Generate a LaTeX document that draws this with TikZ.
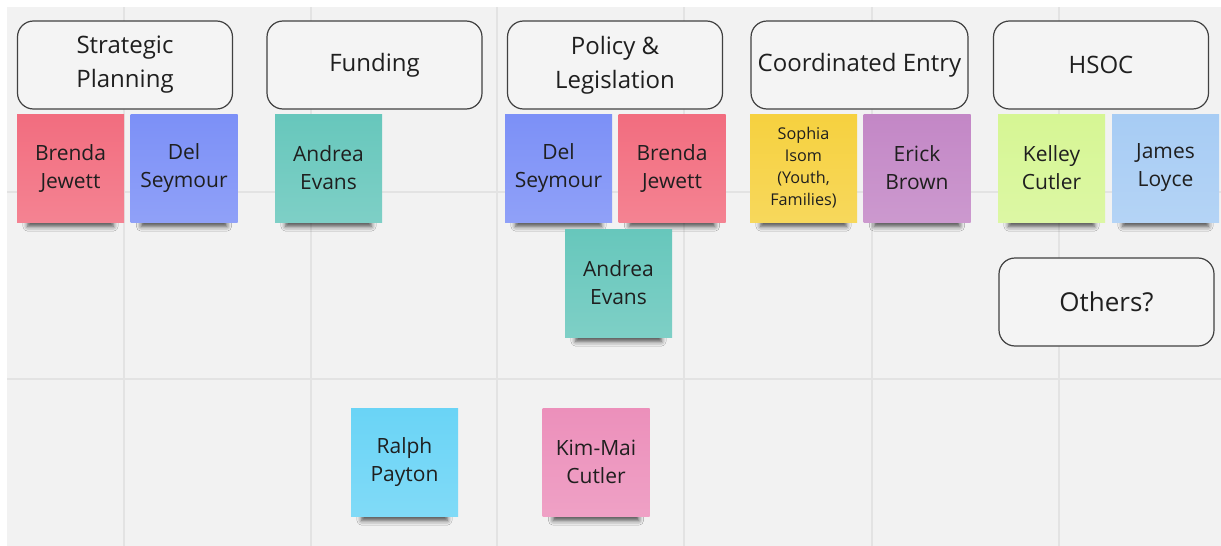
\documentclass[tikz,border=0pt]{standalone}
\usepackage{fontspec}
\setmainfont{Open Sans}
\usetikzlibrary{shadows.blur}

\definecolor{board}{HTML}{F2F2F2}
\definecolor{gridgray}{HTML}{E3E3E3}
\definecolor{boxfill}{HTML}{F4F4F4}
\definecolor{inkgray}{HTML}{1F1F1F}
\definecolor{notered}{HTML}{F26D7F}
\definecolor{noteblue}{HTML}{7C90F7}
\definecolor{noteteal}{HTML}{67C7BC}
\definecolor{noteyellow}{HTML}{F6D13F}
\definecolor{notepurple}{HTML}{C387C6}
\definecolor{notelime}{HTML}{D6F694}
\definecolor{notesky}{HTML}{A7CCF4}
\definecolor{notecyan}{HTML}{6AD4F6}
\definecolor{notepink}{HTML}{EC90BB}

\tikzset{
	header/.style={draw=inkgray!85, line width=0.6pt, rounded corners=8pt, fill=boxfill,
		minimum width=107.5pt, minimum height=44pt, align=center, text=inkgray,
		font=\fontsize{12}{17}\selectfont},
	sticky/.style={minimum width=53.5pt, minimum height=54pt, inner sep=0pt, align=center,
		text=inkgray, font=\fontsize{10.5}{14}\selectfont,
		blur shadow={shadow xshift=0pt, shadow yshift=-9.5pt, shadow scale=0.8,
			shadow opacity=70, shadow blur radius=3pt}},
	gridline/.style={gridgray, line width=1pt}
}

% [extra options], name, x, y, colour, text
\newcommand{\drawstickynote}[6][]{
	\node[sticky, top color=#5, bottom color=#5!85!white, #1] (#2) at (#3, #4) {#6};
}

\begin{document}
\begin{tikzpicture}[x=0.5pt, y=-0.5pt]

\useasboundingbox (0, 0) rectangle (1221, 546);
\fill[white] (0, 0) rectangle (1221, 546);
\fill[board] (7, 7) rectangle (1221, 546);
\foreach \gx in {124, 311, 497, 684, 872, 1059}
	\draw[gridline] (\gx, 7) -- (\gx, 546);
\foreach \gy in {192, 379}
	\draw[gridline] (7, \gy) -- (1221, \gy);

\node[header] (strategic) at (125, 65) {Strategic\\Planning};
\node[header] (funding) at (374.5, 65) {Funding};
\node[header] (policy) at (615, 65) {Policy \&\\Legislation};
\node[header] (entry) at (859.5, 65) {Coordinated Entry};
\node[header] (hsoc) at (1101, 65) {HSOC};
\node[header, font=\fontsize{13}{17}\selectfont] (others) at (1106.5, 302) {Others?};

\drawstickynote{brendasp}{70.5}{168}{notered}{Brenda\\Jewett}
\drawstickynote{delsp}{184}{168}{noteblue}{Del\\Seymour}
\drawstickynote{andreafund}{328.5}{168}{noteteal}{Andrea\\Evans}
\drawstickynote{delpol}{558.5}{168}{noteblue}{Del\\Seymour}
\drawstickynote{brendapol}{672}{168}{notered}{Brenda\\Jewett}
\drawstickynote{andreapol}{618.5}{283}{noteteal}{Andrea\\Evans}
\drawstickynote[font=\fontsize{8.1}{11}\selectfont]{sophia}{803.5}{168}{noteyellow}{Sophia\\Isom\\(Youth,\\Families)}
\drawstickynote{erick}{917}{168}{notepurple}{Erick\\Brown}
\drawstickynote{kelley}{1051.5}{168}{notelime}{Kelley\\Cutler}
\drawstickynote{james}{1165.5}{168}{notesky}{James\\Loyce}
\drawstickynote{ralph}{404.5}{462}{notecyan}{Ralph\\Payton}
\drawstickynote{kimmai}{596}{462}{notepink}{Kim-Mai\\Cutler}

\end{tikzpicture}
\end{document}
